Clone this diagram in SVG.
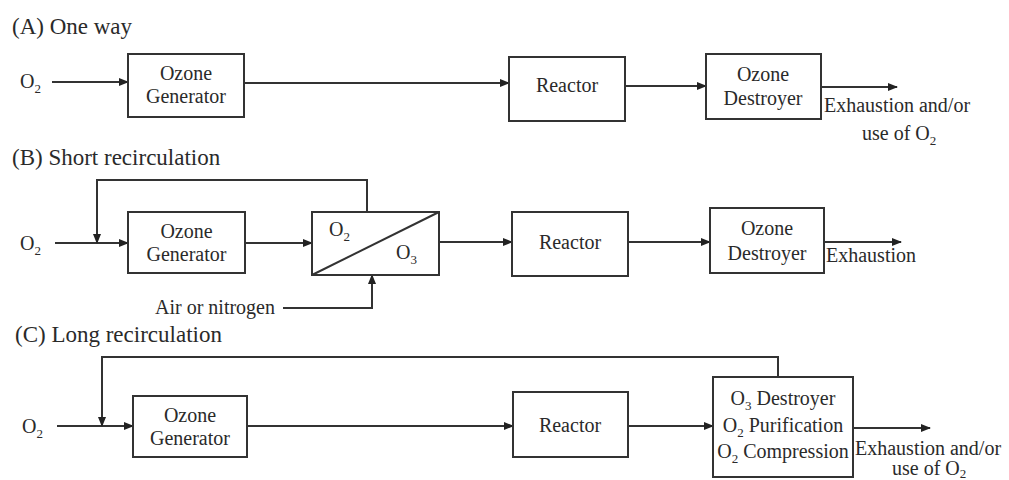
<svg xmlns="http://www.w3.org/2000/svg" width="1009" height="480" viewBox="0 0 1009 480">
<style>
text{font-family:"Liberation Serif","Times New Roman",serif;font-size:20px;fill:#2a2a2a}
.h{font-size:23px}
.c{text-anchor:middle}
.s{font-size:13px}
.box{fill:#fff;stroke:#333;stroke-width:2}
.ln{fill:none;stroke:#333;stroke-width:2}
.ar{marker-end:url(#ah)}
</style>
<defs>
<marker id="ah" markerUnits="userSpaceOnUse" markerWidth="10" markerHeight="8" refX="9" refY="4" orient="auto">
<path d="M0,0 L10,4 L0,8 z" fill="#222"/>
</marker>
</defs>
<g id="titles">
<text class="h" x="12" y="34">(A) One way</text>
<text class="h" x="12" y="165">(B) Short recirculation</text>
<text class="h" x="15" y="342">(C) Long recirculation</text>
</g>
<g id="connectors">
<line class="ln ar" x1="52" y1="82" x2="128" y2="82"/>
<line class="ln ar" x1="244" y1="83" x2="509" y2="83"/>
<line class="ln ar" x1="625" y1="86" x2="706" y2="86"/>
<line class="ln ar" x1="821" y1="87" x2="897" y2="87"/>
<line class="ln ar" x1="55" y1="243" x2="128" y2="243"/>
<polyline class="ln ar" points="367,212 367,180 97,180 97,243"/>
<line class="ln ar" x1="245" y1="243" x2="312" y2="243"/>
<polyline class="ln ar" points="283,308 372,308 372,275"/>
<line class="ln ar" x1="439" y1="242" x2="512" y2="242"/>
<line class="ln ar" x1="628" y1="242" x2="710" y2="242"/>
<line class="ln ar" x1="824" y1="242" x2="901" y2="242"/>
<line class="ln ar" x1="57" y1="426" x2="133" y2="426"/>
<polyline class="ln ar" points="778,377 778,357 102,357 102,426"/>
<line class="ln ar" x1="247" y1="426" x2="513" y2="426"/>
<line class="ln ar" x1="628" y1="426" x2="713" y2="426"/>
<line class="ln ar" x1="853" y1="428" x2="930" y2="428"/>
</g>
<g id="A-in"><text x="20" y="88">O<tspan class="s" dy="5">2</tspan></text></g>
<g id="A-gen"><rect class="box" x="128" y="54" width="116" height="63"/><text class="c" x="186" y="80">Ozone</text><text class="c" x="186" y="103">Generator</text></g>
<g id="A-reactor"><rect class="box" x="509" y="57" width="116" height="64"/><text class="c" x="567" y="92">Reactor</text></g>
<g id="A-destroyer"><rect class="box" x="706" y="54" width="115" height="65"/><text class="c" x="763" y="81">Ozone</text><text class="c" x="763" y="105">Destroyer</text></g>
<g id="A-out"><text x="824" y="112">Exhaustion and/or</text><text x="862" y="140">use of O<tspan class="s" dy="5">2</tspan></text></g>
<g id="B-in"><text x="20" y="250">O<tspan class="s" dy="5">2</tspan></text></g>
<g id="B-gen"><rect class="box" x="128" y="212" width="117" height="61"/><text class="c" x="186.5" y="238">Ozone</text><text class="c" x="186.5" y="261">Generator</text></g>
<g id="B-separator"><rect class="box" x="312" y="212" width="127" height="63"/><line class="ln" x1="312" y1="275" x2="439" y2="212"/><text x="329" y="236">O<tspan class="s" dy="5">2</tspan></text><text x="396" y="259">O<tspan class="s" dy="5">3</tspan></text></g>
<g id="B-air"><text x="155" y="314">Air or nitrogen</text></g>
<g id="B-reactor"><rect class="box" x="512" y="212" width="116" height="64"/><text class="c" x="570" y="249">Reactor</text></g>
<g id="B-destroyer"><rect class="box" x="710" y="208" width="114" height="65"/><text class="c" x="767" y="235">Ozone</text><text class="c" x="767" y="260">Destroyer</text></g>
<g id="B-out"><text x="826" y="262">Exhaustion</text></g>
<g id="C-in"><text x="22" y="433">O<tspan class="s" dy="5">2</tspan></text></g>
<g id="C-gen"><rect class="box" x="133" y="396" width="114" height="61"/><text class="c" x="190" y="422">Ozone</text><text class="c" x="190" y="445">Generator</text></g>
<g id="C-reactor"><rect class="box" x="513" y="392" width="115" height="65"/><text class="c" x="570" y="432">Reactor</text></g>
<g id="C-destroyer"><rect class="box" x="713" y="377" width="140" height="100"/>
<text class="c" x="783" y="405">O<tspan class="s" dy="5">3</tspan><tspan dy="-5"> Destroyer</tspan></text>
<text class="c" x="783" y="432">O<tspan class="s" dy="5">2</tspan><tspan dy="-5"> Purification</tspan></text>
<text class="c" x="783" y="458">O<tspan class="s" dy="5">2</tspan><tspan dy="-5"> Compression</tspan></text></g>
<g id="C-out"><text x="855" y="455">Exhaustion and/or</text><text x="892" y="475">use of O<tspan class="s" dy="3">2</tspan></text></g>
</svg>
